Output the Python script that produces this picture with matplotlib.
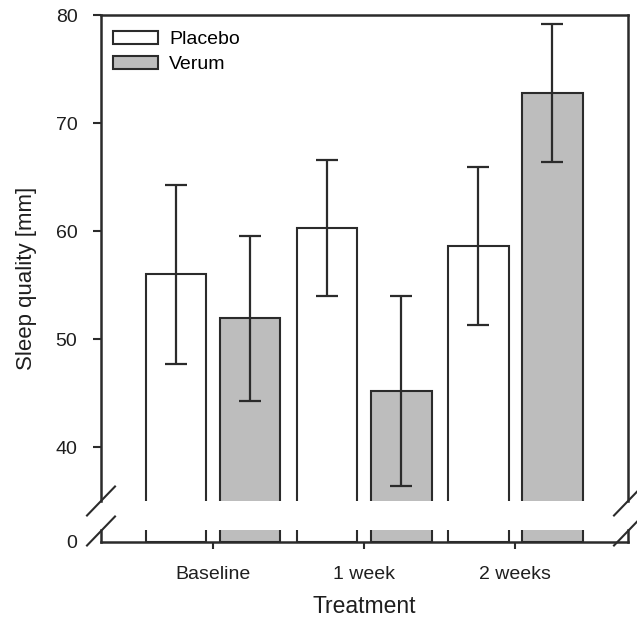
import matplotlib
matplotlib.use("Agg")
import matplotlib.pyplot as plt
import numpy as np
from matplotlib.patches import Patch

plt.rcParams['font.family'] = ['Liberation Sans', 'DejaVu Sans']

categories = ["Baseline", "1 week", "2 weeks"]
placebo = [56.0, 60.3, 58.6]
placebo_err = [8.3, 6.3, 7.3]
verum = [51.9, 45.2, 72.8]
verum_err = [7.6, 8.8, 6.4]
yticks_upper = [40, 50, 60, 70, 80]

edge = '#2b2b2b'
txt = '#1e1e1e'
gray = '#bdbdbd'
W, H = 637, 620
fig = plt.figure(figsize=(W / 100, H / 100), dpi=100)

def fx(px):
    return px / W

def fy(py):
    return 1 - py / H

left, right = 101, 628
ax = fig.add_axes([fx(left), fy(501), fx(right - left), fy(15) - fy(501)])
axb = fig.add_axes([fx(left), fy(542), fx(right - left), fy(530) - fy(542)])

x = np.arange(len(categories))
bw = 0.40
off = 0.245
for a in (ax, axb):
    a.bar(x - off, placebo, bw, color='white', edgecolor=edge, linewidth=1.5, zorder=2)
    a.bar(x + off, verum, bw, color=gray, edgecolor=edge, linewidth=1.5, zorder=2)
    a.set_xlim(-0.742, 2.745)

ax.errorbar(x - off, placebo, yerr=placebo_err, fmt='none', ecolor=edge,
            elinewidth=1.6, capsize=8, capthick=1.6, zorder=3)
ax.errorbar(x + off, verum, yerr=verum_err, fmt='none', ecolor=edge,
            elinewidth=1.6, capsize=8, capthick=1.6, zorder=3)

ax.set_ylim(35, 80)
ax.set_yticks(yticks_upper)
ax.set_xticks([])
ax.spines['bottom'].set_visible(False)
for s in ['left', 'right', 'top']:
    ax.spines[s].set_linewidth(1.8)
    ax.spines[s].set_color(edge)
ax.tick_params(axis='y', direction='out', length=6, width=1.5, color=edge,
               labelsize=14, pad=11, labelcolor=txt)

axb.set_ylim(0, 1)
axb.set_yticks([0])
axb.spines['top'].set_visible(False)
for s in ['left', 'right', 'bottom']:
    axb.spines[s].set_linewidth(1.8)
    axb.spines[s].set_color(edge)
axb.tick_params(axis='y', direction='out', length=0, labelsize=14, pad=17,
                labelcolor=txt)
axb.set_xticks(x)
axb.set_xticklabels(categories)
axb.tick_params(axis='x', direction='out', length=5, width=1.5, color=edge,
                labelsize=14, pad=12, labelcolor=txt)
axb.set_xlabel("Treatment", fontsize=16.5, labelpad=9, color=txt)

fig.text(fx(27), fy(278), "Sleep quality [mm]", rotation=90, fontsize=16,
         ha='center', va='center', color=txt)

# break marks
for xp in (left, right):
    for yp in (501, 531):
        fig.add_artist(plt.Line2D([fx(xp - 14), fx(xp + 14)], [fy(yp + 14.5), fy(yp - 14.5)],
                                  color=edge, lw=1.5, transform=fig.transFigure))

# legend
handles = [Patch(facecolor='white', edgecolor=edge, linewidth=1.5, label='Placebo'),
           Patch(facecolor=gray, edgecolor=edge, linewidth=1.5, label='Verum')]
ax.legend(handles=handles, loc='upper left', frameon=False, fontsize=14,
          handlelength=2.3, handleheight=0.62, handletextpad=0.57, labelspacing=0.42,
          borderaxespad=0.0, borderpad=0.0, bbox_to_anchor=(0.023, 0.967))

fig.savefig("out.png", dpi=100)
